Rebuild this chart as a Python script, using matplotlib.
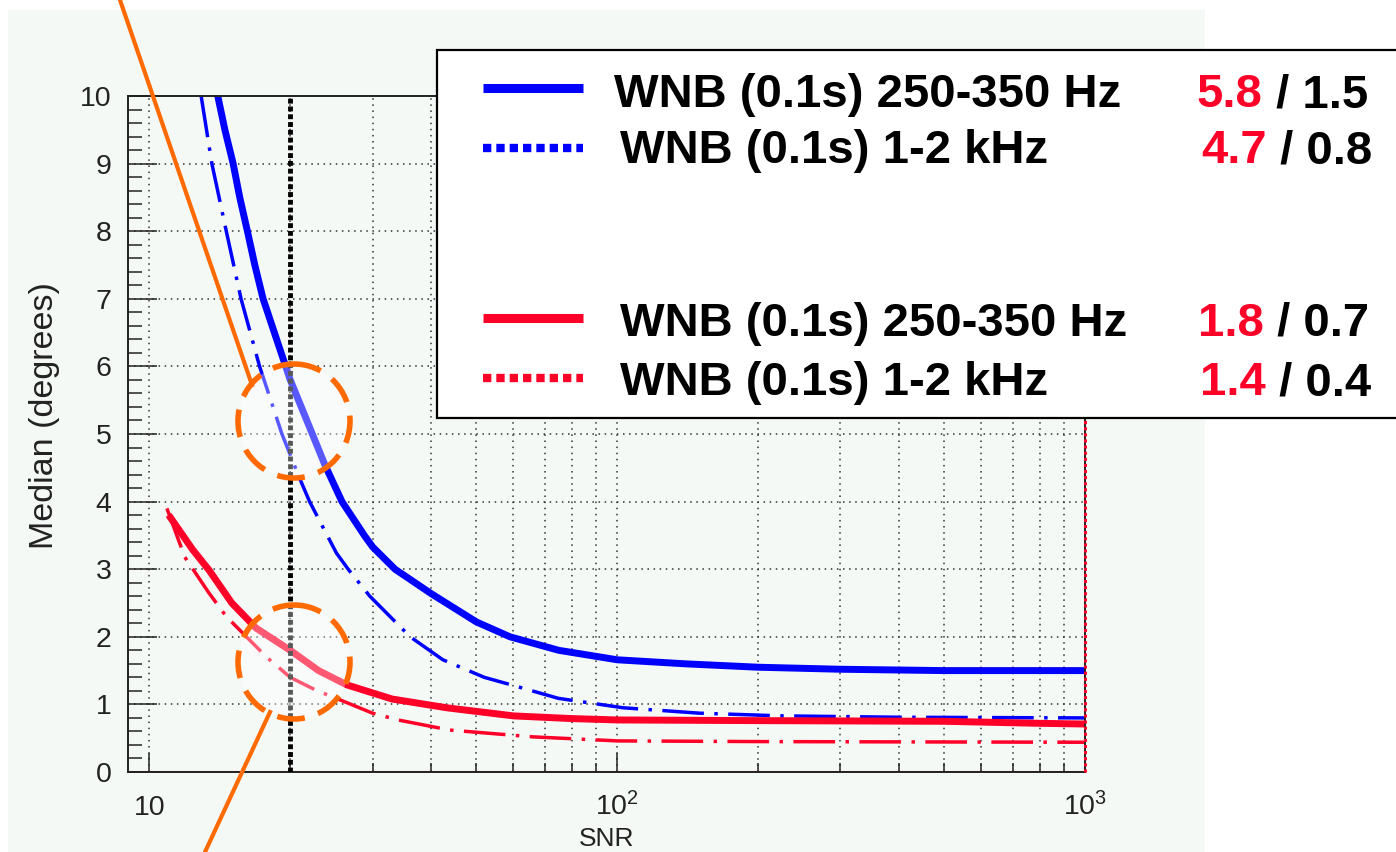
import numpy as np
import matplotlib.pyplot as plt
from matplotlib.patches import Rectangle, Ellipse
from matplotlib.ticker import FixedLocator, NullFormatter

plt.rcParams['font.family'] = ['Liberation Sans', 'DejaVu Sans']

# median angular error (degrees) vs SNR
snr_blue_lo = [14.0, 14.5, 15.1, 15.6, 16.2, 16.8, 17.5, 18.6, 20.0, 22.3, 23.7, 25.8,
               28.8, 30.0, 33.5, 40.0, 50.0, 59.0, 75.0, 100.0, 140.0, 200.0,
               300.0, 500.0, 1000.0]
med_blue_lo = [10.0, 9.5, 9.0, 8.5, 8.0, 7.5, 7.0, 6.45, 5.8, 5.0, 4.55, 4.0,
               3.5, 3.33, 3.0, 2.64, 2.22, 2.0, 1.8, 1.66, 1.6, 1.55,
               1.52, 1.5, 1.5]

snr_blue_hi = [12.9, 13.6, 14.6, 15.7, 17.2, 19.2, 20.9, 22.0, 25.1, 26.6, 29.6, 36.1,
               42.4, 52.0, 60.0, 74.8, 103.0, 150.0, 225.0, 400.0, 1000.0]
med_blue_hi = [10.0, 9.0, 8.0, 7.0, 6.0, 5.0, 4.36, 4.0, 3.24, 3.0, 2.6, 2.0,
               1.66, 1.4, 1.28, 1.09, 0.95, 0.87, 0.83, 0.81, 0.8]

snr_red_lo = [11.1, 12.4, 13.4, 15.0, 16.9, 20.0, 23.0, 26.4, 33.0, 43.2, 60.0, 80.0,
              100.0, 200.0, 500.0, 800.0, 1000.0]
med_red_lo = [3.76, 3.28, 2.99, 2.5, 2.13, 1.8, 1.5, 1.29, 1.08, 0.95, 0.83, 0.79,
              0.77, 0.76, 0.75, 0.72, 0.71]

snr_red_hi = [10.9, 11.9, 13.4, 14.6, 17.8, 20.0, 22.7, 25.5, 30.0, 34.0, 43.9, 66.0,
              100.0, 200.0, 1000.0]
med_red_hi = [3.9, 3.18, 2.65, 2.3, 1.7, 1.4, 1.21, 1.07, 0.87, 0.77, 0.62, 0.52,
              0.46, 0.45, 0.44]

snr_mark = 20
x_major = [10, 100, 1000]
x_major_labels = ['10', r'$\mathregular{10^{2}}$', r'$\mathregular{10^{3}}$']
x_minor = [20, 30, 40, 50, 60, 70, 80, 90, 200, 300, 400, 500, 600, 700, 800, 900]

legend_labels = ['WNB (0.1s) 250-350 Hz', 'WNB (0.1s) 1-2 kHz',
                 'WNB (0.1s) 250-350 Hz', 'WNB (0.1s) 1-2 kHz']
legend_at_snr20 = ['5.8', '4.7', '1.8', '1.4']
legend_at_snr1000 = ['1.5', '0.8', '0.7', '0.4']

BLUE = '#0000ff'
RED = '#ff0028'
ORANGE = '#ff6a00'
PANEL = '#f5f9f6'
W, H = 1396, 852

fig = plt.figure(figsize=(W / 100, H / 100), dpi=100)
fig.patch.set_facecolor('white')
fig.patches.append(Rectangle((8 / W, 0), 1197 / W, 842 / H, transform=fig.transFigure,
                             facecolor=PANEL, edgecolor='none', zorder=-5))

ax = fig.add_axes([128 / W, 80 / H, 957 / W, 676 / H])
ax.set_facecolor('none')
ax.set_xscale('log')
ax.set_xlim(9, 1000)
ax.set_ylim(0, 10)

ax.xaxis.set_major_locator(FixedLocator(x_major))
ax.set_xticks(x_major, labels=x_major_labels, va='baseline')
ax.xaxis.set_minor_locator(FixedLocator(x_minor))
ax.xaxis.set_minor_formatter(NullFormatter())
ax.set_yticks(range(0, 11))
ax.yaxis.set_minor_locator(FixedLocator(np.arange(0, 10.01, 0.2)))

ax.tick_params(which='both', direction='in', top=False, right=False,
               width=1.1, color='#222222', labelcolor='#222222', labelsize=20.5)
ax.tick_params(axis='x', which='major', length=14, pad=31)
ax.tick_params(axis='x', which='minor', length=6.5)
ax.tick_params(axis='y', which='major', length=21, pad=12)
ax.tick_params(axis='y', which='minor', length=10)

ax.grid(axis='x', which='both', color='#333333', lw=1.1, ls=(0, (1, 3)))
ax.grid(axis='y', which='major', color='#333333', lw=1.1, ls=(0, (1, 3)))
for s in ax.spines.values():
    s.set_linewidth(1.4)
    s.set_color('#222222')

ax.axhline(0, color=RED, lw=2.2, zorder=2)
ax.axvline(1000, color=RED, lw=2.2, ls=(0, (1, 1)), zorder=3, clip_on=False)

ax.plot(snr_blue_lo, med_blue_lo, color=BLUE, lw=5, solid_joinstyle='round')
ax.plot(snr_blue_hi, med_blue_hi, color=BLUE, lw=2.5, ls=(0, (12, 3, 1, 3)))
ax.plot(snr_red_lo, med_red_lo, color=RED, lw=5, solid_joinstyle='round')
ax.plot(snr_red_hi, med_red_hi, color=RED, lw=2.5, ls=(0, (12, 3, 1, 3)))
ax.axvline(snr_mark, color='black', lw=3.5, ls=(0, (1, 0.6)), zorder=3)

ax.set_xlabel('SNR', fontsize=19, color='#222222', va='bottom')
ax.xaxis.set_label_coords(0.5, -0.1175)
ax.set_ylabel('Median (degrees)', fontsize=24.5, color='#222222')
ax.yaxis.set_label_coords(-0.071, 0.527)

# overlay in pixel coordinates: legend box and hand-drawn annotations
ov = fig.add_axes([0, 0, 1, 1], zorder=5)
ov.set_xlim(0, W)
ov.set_ylim(H, 0)
ov.axis('off')

ov.add_patch(Rectangle((437, 50), 1000, 368, facecolor='white', edgecolor='black',
                       lw=1.6, clip_on=False))
rows_y = [107, 163, 336, 395]
line_y = [88, 148, 318, 378]
text_x = [614, 620, 620, 620]
val_x = [1197, 1201, 1198, 1200]
colors = [BLUE, BLUE, RED, RED]
for i in range(4):
    if i % 2 == 0:
        ov.plot([483, 583], [line_y[i], line_y[i]], color=colors[i], lw=6.5,
                solid_capstyle='butt')
    else:
        ov.plot([483, 583], [line_y[i], line_y[i]], color=colors[i], lw=6,
                ls=(0, (1, 0.6)))
    ov.text(text_x[i], rows_y[i], legend_labels[i], fontsize=34, fontweight='bold',
            va='baseline', ha='left')
    t = ov.text(val_x[i], rows_y[i], legend_at_snr20[i], fontsize=34, fontweight='bold',
                color=RED, va='baseline', ha='left')
    ov.annotate(' / ' + legend_at_snr1000[i], xy=(1, 0), xycoords=t, fontsize=34,
                fontweight='bold', va='bottom', ha='left')

ov.plot([120, 252], [0, 385], color=ORANGE, lw=3)
ov.plot([270, 205], [712, 852], color=ORANGE, lw=3)
for cy in [421, 662]:
    ov.add_patch(Ellipse((294, cy), 112, 114, facecolor=(1, 1, 1, 0.35),
                         edgecolor=ORANGE, lw=4, ls=(0, (5, 2.5))))

fig.savefig('out.png', dpi=100)
